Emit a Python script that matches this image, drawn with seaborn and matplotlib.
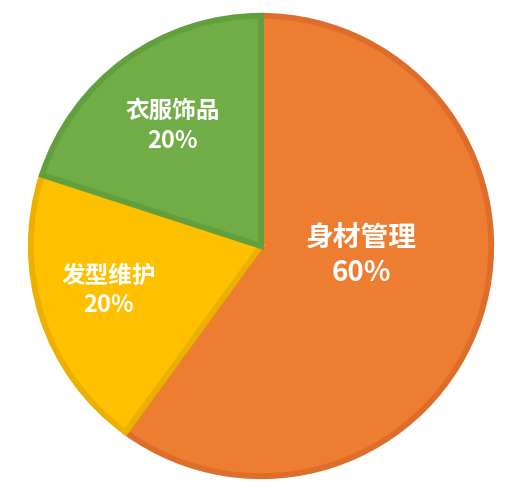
import matplotlib
matplotlib.use("Agg")
import matplotlib.pyplot as plt
import seaborn as sns

# slice data, clockwise from 12 o'clock
categories = ["身材管理", "发型维护", "衣服饰品"]
shares = [60, 20, 20]
pct_labels = ["60%", "20%", "20%"]

fill_colors = ["#ED7D31", "#FFC000", "#70AD47"]
edge_colors = ["#DE6D2B", "#ECB000", "#62A03D"]

# label placement (data coords, pie radius = 1) and font sizes
label_pos = [(0.43, -0.04), (-0.655, -0.19), (-0.38, 0.515)]
label_size = [20, 17, 17]

sns.set_theme(style="white")
plt.rcParams["font.family"] = ["Noto Sans CJK SC", "DejaVu Sans"]

fig = plt.figure(figsize=(5.24, 4.96), dpi=100)
ax = fig.add_axes([28 / 524, 17 / 496, 466 / 524, 466 / 496])

wedges, _ = ax.pie(shares, colors=fill_colors, startangle=90, counterclock=False,
                   radius=0.988, wedgeprops=dict(linewidth=4.2))
for w, ec in zip(wedges, edge_colors):
    w.set_edgecolor(ec)
    w.set_joinstyle("miter")

for name, pct, (x, y), fs in zip(categories, pct_labels, label_pos, label_size):
    ax.text(x, y, f"{name}\n{pct}", ha="center", va="center", color="white",
            fontsize=fs, fontweight="bold", linespacing=1.3)

ax.set_xlim(-1, 1)
ax.set_ylim(-1, 1)
ax.set_aspect("equal")
ax.axis("off")

fig.savefig("out.png", dpi=100)
